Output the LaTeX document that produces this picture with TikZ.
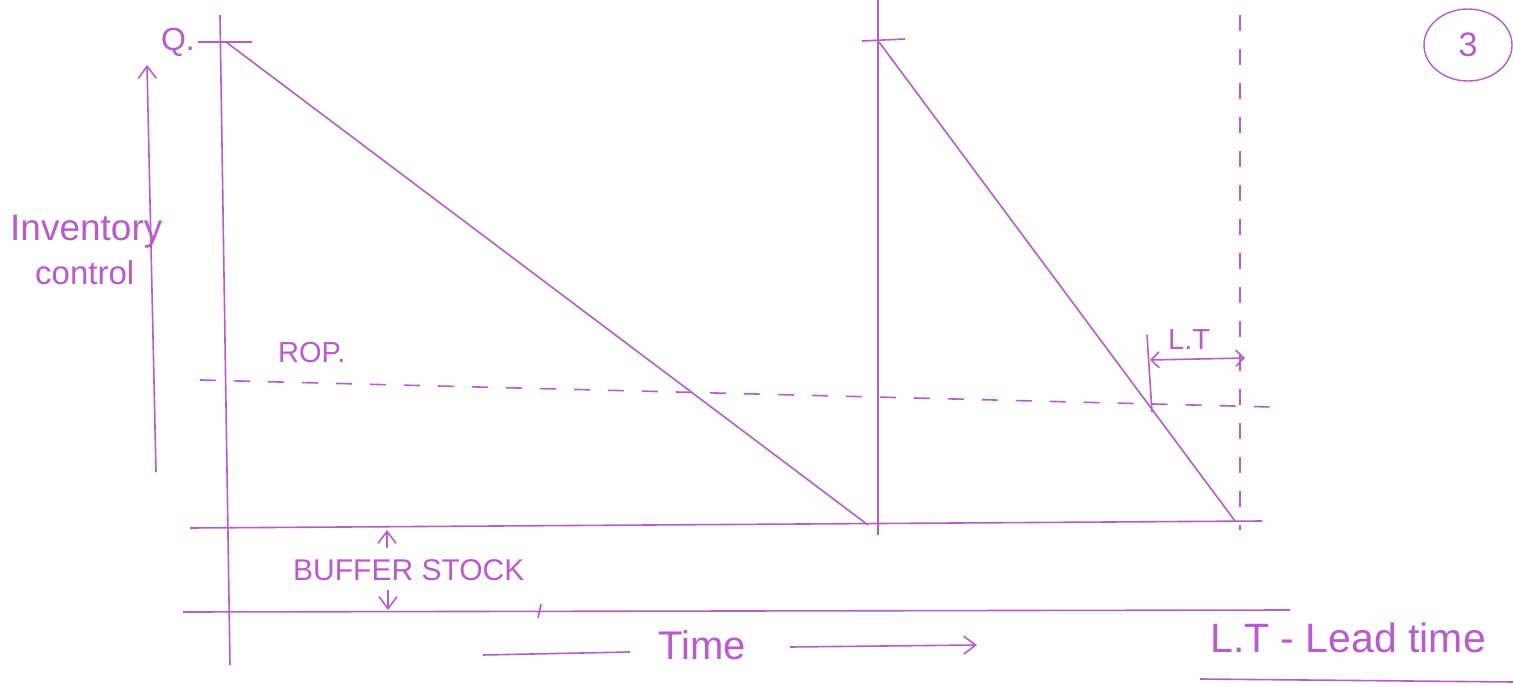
\documentclass[tikz,border=0pt]{standalone}
\usepackage{fontspec}
\setmainfont{Liberation Sans}
\usetikzlibrary{arrows.meta,shapes.geometric}
\definecolor{ink}{RGB}{185,90,205}
\tikzset{
  line/.style={draw=ink, line width=1.6pt},
  dashline/.style={draw=ink, line width=1.6pt, dash pattern=on 16pt off 18pt},
  lbl/.style={text=ink, font=\fontsize{26}{30}\selectfont, inner sep=0pt},
  tip/.style={-{Straight Barb[length=12pt,width=18pt]}}
}
\begin{document}
\begin{tikzpicture}[x=1pt,y=-1pt]
\useasboundingbox (0,0) rectangle (1513,687);
% coordinates
\coordinate (ytop) at (220,15);
\coordinate (ybot) at (230,665);
\coordinate (qL) at (198,42);
\coordinate (qR) at (252,42);
\coordinate (q) at (226,42);
\coordinate (z1) at (868,525);
\coordinate (v2top) at (878,0);
\coordinate (v2bot) at (878,535);
\coordinate (t2L) at (862,41);
\coordinate (t2R) at (905,39);
\coordinate (q2) at (879,42);
\coordinate (z2) at (1235,521);
\coordinate (dtop) at (1240,15);
\coordinate (dbot) at (1240,530);
\coordinate (bufL) at (190,528);
\coordinate (bufR) at (1262,521);
\coordinate (baseL) at (183,612);
\coordinate (baseR) at (1290,610);
\coordinate (ropL) at (200,380);
\coordinate (ropR) at (1272,407);
\coordinate (ltT) at (1147,335);
\coordinate (ltB) at (1152,412);
\coordinate (ltA) at (1150,360);
\coordinate (ltC) at (1245,358);
\coordinate (icB) at (156,472);
\coordinate (icT) at (147,65);
\coordinate (bsT) at (387,530);
\coordinate (bsTm) at (387,548);
\coordinate (bsB) at (388,610);
\coordinate (bsBm) at (388,590);
\coordinate (tk1) at (541,604);
\coordinate (tk2) at (538,618);
\coordinate (tmL1) at (630,652);
\coordinate (tmL2) at (483,655);
\coordinate (tmR1) at (790,647);
\coordinate (tmR2) at (977,645);
\coordinate (ulL) at (1200,679);
\coordinate (ulR) at (1513,682);
% axes and main lines
\draw[line] (ytop) -- (ybot);
\draw[line] (qL) -- (qR);
\draw[line] (q) -- (z1);
\draw[line] (v2top) -- (v2bot);
\draw[line] (t2L) -- (t2R);
\draw[line] (q2) -- (z2);
\draw[dashline] (dtop) -- (dbot);
\draw[line] (bufL) -- (bufR);
\draw[line] (baseL) -- (baseR);
\draw[line] (tk1) -- (tk2);
\draw[dashline] (ropL) -- (ropR);
% lead time
\draw[line] (ltT) -- (ltB);
\draw[line, {Straight Barb[length=8pt,width=16pt]}-{Straight Barb[length=8pt,width=16pt]}] (ltA) -- (ltC);
% inventory control arrow
\draw[line, tip] (icB) -- (icT);
% buffer stock arrows
\draw[line, tip] (bsTm) -- (bsT);
\draw[line, tip] (bsBm) -- (bsB);
% time arrows
\draw[line] (tmL1) -- (tmL2);
\draw[line, tip] (tmR1) -- (tmR2);
\draw[line] (ulL) -- (ulR);
% labels
\node[lbl, anchor=east, font=\fontsize{32}{36}\selectfont] (Q) at (195,42) {Q.};
\node[lbl, anchor=west, font=\fontsize{37}{40}\selectfont] (inv) at (10,232) {Inventory};
\node[lbl, anchor=west, font=\fontsize{33}{36}\selectfont] (ctl) at (35,273) {control};
\node[lbl, anchor=west, font=\fontsize{29}{32}\selectfont] (rop) at (278,353) {ROP.};
\node[lbl, anchor=west, font=\fontsize{29}{32}\selectfont] (lt) at (1168,340) {L.T};
\node[lbl, anchor=west, font=\fontsize{30}{34}\selectfont] (bs) at (293,570) {BUFFER STOCK};
\node[lbl, anchor=west, font=\fontsize{40}{44}\selectfont] (time) at (658,645) {Time};
\node[lbl, anchor=west, font=\fontsize{41}{44}\selectfont] (legend) at (1210,638) {L.T - Lead time};
\node[draw=ink, line width=1.4pt, ellipse, inner sep=0pt, minimum width=88pt, minimum height=72pt, text=ink, font=\fontsize{34}{38}\selectfont] (num) at (1468,45) {3};
\end{tikzpicture}
\end{document}
